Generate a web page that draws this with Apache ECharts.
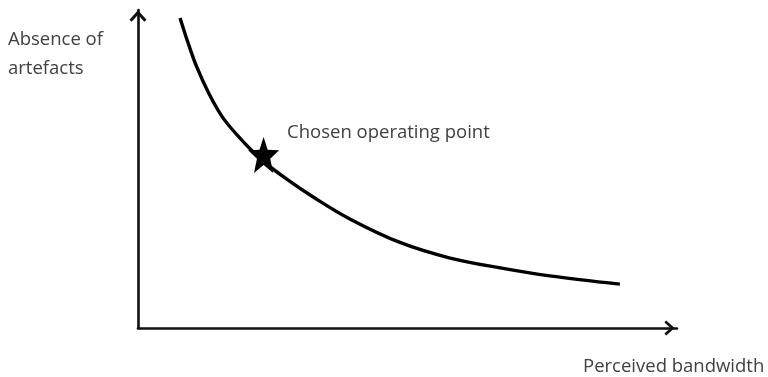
<!DOCTYPE html>
<html>
<head>
<meta charset="utf-8">
<script src="https://cdn.jsdelivr.net/npm/echarts@6/dist/echarts.min.js"></script>
<style>
html,body{margin:0;padding:0;background:#fff;}
#chart{width:768px;height:377px;}
</style>
</head>
<body>
<div id="chart"></div>
<script>
// Trade-off curve (x: perceived bandwidth, y: absence of artefacts, arbitrary 0-100 units)
const curveX = [7.8, 9.3, 10.9, 13.2, 15.8, 19.3, 23.0, 27.6, 32.5, 39.3, 48.6, 57.9, 67.2, 76.4, 89.4];
const curveY = [97.5, 89.6, 82.1, 73.6, 66.0, 59.0, 52.8, 46.8, 41.2, 34.3, 26.9, 22.0, 18.9, 16.4, 13.8];
const pointX = [23.3];
const pointY = [54.4];
const pointLabel = 'Chosen operating point';
const xName = 'Perceived bandwidth';
const yNameLines = ['Absence of', 'artefacts'];

const chevron = 'path://M50 0 L100 56 L87 68 L50 27 L13 68 L0 56 Z';
const star = 'path://M50 0 L63.2 35.5 L100 37 L71.4 60.5 L80.9 100 L50 78 L19.1 100 L28.6 60.5 L0 37 L36.8 35.5 Z';

const chart = echarts.init(document.getElementById('chart'));
const FONT = '"Open Sans", sans-serif';
chart.setOption({
  animation: false,
  backgroundColor: '#ffffff',
  grid: { left: 138, top: 10, right: 91, bottom: 49, containLabel: false },
  xAxis: {
    type: 'value', min: 0, max: 100,
    axisLine: { show: true, onZero: false, lineStyle: { color: '#111', width: 2.6 },
      symbol: ['none', chevron], symbolSize: [15, 15], symbolOffset: [0, -7.5] },
    axisTick: { show: false }, axisLabel: { show: false }, splitLine: { show: false }
  },
  yAxis: {
    type: 'value', min: 0, max: 100,
    axisLine: { show: true, onZero: false, lineStyle: { color: '#111', width: 2.6 },
      symbol: ['none', chevron], symbolSize: [17, 12], symbolOffset: [0, -6] },
    axisTick: { show: false }, axisLabel: { show: false }, splitLine: { show: false }
  },
  graphic: [
    { type: 'text', left: 8, top: 25, style: { text: yNameLines.join('\n'), fontSize: 18.5, fontFamily: FONT, fill: '#404040', lineHeight: 29 } },
    { type: 'text', left: 583, top: 357, style: { text: xName, fontSize: 18.5, fontFamily: FONT, fill: '#404040' } }
  ],
  series: [
    {
      type: 'line', smooth: 0.35, symbol: 'none',
      data: curveX.map((x, i) => [x, curveY[i]]),
      lineStyle: { color: '#000', width: 3.4 }, z: 2
    },
    {
      type: 'scatter', symbol: star, symbolSize: [31, 36],
      data: pointX.map((x, i) => [x, pointY[i]]),
      itemStyle: { color: '#000', opacity: 1 }, z: 3,
      emphasis: { disabled: true },
      label: { show: true, formatter: pointLabel, position: 'right', distance: 5, offset: [3, -22],
        fontSize: 18.5, fontFamily: FONT, color: '#404040' }
    }
  ]
});
</script>
</body>
</html>
